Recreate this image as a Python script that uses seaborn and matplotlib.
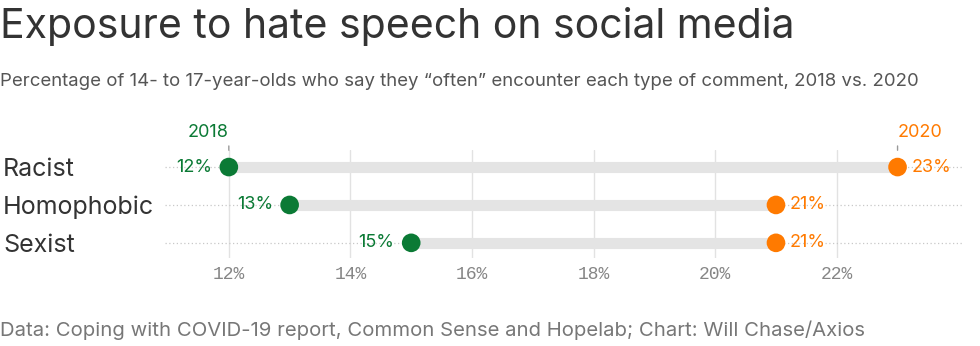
import matplotlib
matplotlib.use("Agg")
import matplotlib.pyplot as plt
import seaborn as sns
import pandas as pd

categories = ["Racist", "Homophobic", "Sexist"]
values_2018 = [12, 13, 15]
values_2020 = [23, 21, 21]
tick_values = [12, 14, 16, 18, 20, 22]
tick_labels = ["12%", "14%", "16%", "18%", "20%", "22%"]

GREEN = "#0b7a35"
ORANGE = "#ff7a00"

sns.set_theme(style="white")
plt.rcParams["font.family"] = ["Inter", "DejaVu Sans"]

fig = plt.figure(figsize=(9.8, 3.46), dpi=100)
ax = fig.add_axes([165/980, 1-258/346, (962-165)/980, 108/346])

df = pd.DataFrame({"cat": categories, "y2018": values_2018, "y2020": values_2020})
ypos = list(range(len(categories)))

ax.set_xlim(10.95, 24.06)
ax.set_ylim(2.4, -0.45)

for x in tick_values:
    ax.axvline(x, color="#e2e2e2", lw=1, zorder=0)
for y in ypos:
    ax.axhline(y, color="#c8c8c8", lw=0.9, ls=(0, (1, 2)), zorder=1)

ax.hlines(ypos, df["y2018"], df["y2020"], color="#e4e4e4", lw=8, zorder=2)

long = pd.DataFrame({
    "pos": ypos + ypos,
    "val": values_2018 + values_2020,
    "year": ["2018"] * 3 + ["2020"] * 3,
})
sns.scatterplot(data=long, x="val", y="pos", hue="year",
                palette={"2018": GREEN, "2020": ORANGE}, s=180,
                edgecolor="none", legend=False, ax=ax, zorder=3)

for y, a, b in zip(ypos, values_2018, values_2020):
    ax.annotate(f"{a}%", (a, y), xytext=(-12, 0), textcoords="offset points",
                ha="right", va="center", color=GREEN, fontsize=13)
    ax.annotate(f"{b}%", (b, y), xytext=(10, 0), textcoords="offset points",
                ha="left", va="center", color=ORANGE, fontsize=13)

# year labels with small leader ticks
for val, lab, col, ha in [(values_2018[0], "2018", GREEN, "right"),
                          (values_2020[0], "2020", ORANGE, "left")]:
    ax.annotate("", xy=(val, -0.37), xytext=(val, -0.63),
                arrowprops=dict(arrowstyle="-", color="#999999", lw=1), annotation_clip=False)
    ax.text(val, -0.68, lab, color=col, fontsize=13, ha=ha, va="bottom")

ax.set_xticks(tick_values)
ax.set_xticklabels(tick_labels, fontfamily="Liberation Mono", color="#868686", fontsize=13)
ax.set_yticks(ypos)
ax.set_yticklabels(categories, fontsize=18, color="#333333")
ax.tick_params(axis="y", length=0, pad=0)
ax.tick_params(axis="x", length=0, pad=6)
for lab in ax.get_yticklabels():
    lab.set_ha("left")
    lab.set_x(-165/797 + 3/797)
ax.set_xlabel("")
ax.set_ylabel("")
sns.despine(ax=ax, left=True, bottom=True)

fig.text(0, 1-27/346, "Exposure to hate speech on social media", fontsize=29.5,
         color="#333333", va="center", ha="left")
fig.text(0, 1-82/346, "Percentage of 14- to 17-year-olds who say they \u201coften\u201d encounter each type of comment, 2018 vs. 2020",
         fontsize=13.4, color="#555555", va="center", ha="left")
fig.text(0, 1-330/346, "Data: Coping with COVID-19 report, Common Sense and Hopelab; Chart: Will Chase/Axios",
         fontsize=14.6, color="#777777", va="center", ha="left")

fig.savefig("out.png", dpi=100)
